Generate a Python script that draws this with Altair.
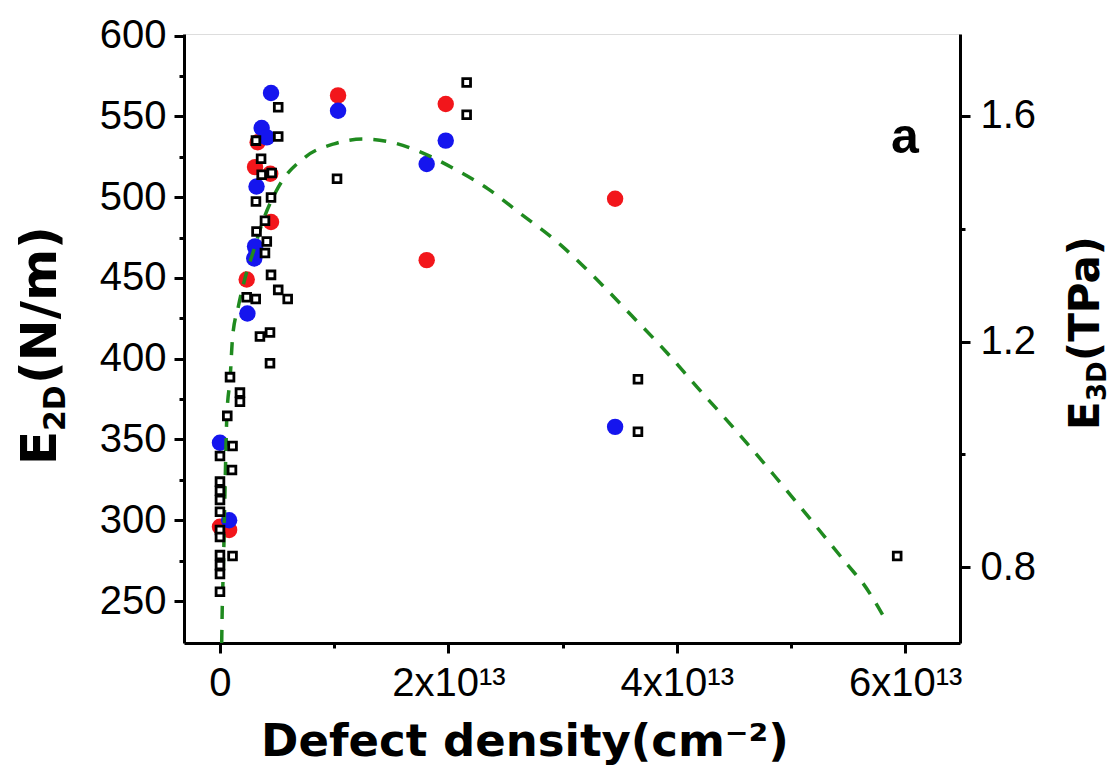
import altair as alt
import pandas as pd

# x values are in units of 10^13 cm^-2
red_x = [0.0, 0.08, 0.234, 0.447, 0.44, 0.307, 0.33, 1.034, 1.977, 1.81, 3.46]
red_y = [296, 294, 449, 484.6, 514.5, 518.6, 534, 563, 557.7, 461, 499]

blue_x = [0.0, 0.08, 0.24, 0.30, 0.32, 0.307, 0.32, 0.365, 0.41, 0.447, 1.034, 1.977, 1.81, 3.46]
blue_y = [348, 300, 428, 462, 466, 469.5, 506.6, 542.8, 537, 564.5, 553.5, 535, 520.5, 357.8]

sq_x = [0.51, 0.51, 0.315, 0.36, 0.365, 0.453, 0.315, 0.447, 0.394, 0.32, 0.41, 0.394,
        0.447, 0.51, 0.593, 0.234, 0.313, 0.35, 0.438, 0.438, 0.088, 0.175, 0.175, 0.064,
        0.11, 0.0, 0.105, 0.0, 0.0, 0.0, 0.0, 0.0, 0.0, 0.0, 0.11, 0.0, 0.0, 0.0,
        1.025, 2.16, 2.16, 3.66, 3.66, 5.93]
sq_y = [555.6, 537.6, 535, 523.8, 513.9, 515, 497.3, 499.8, 485.4, 478.8, 472.6, 465.4,
        451.9, 442.6, 436.9, 438, 436.9, 413.7, 416.2, 397.2, 388.6, 379, 373.4, 364.6,
        346, 339.8, 331.1, 323.9, 318.3, 312.5, 305.3, 294, 289.6, 278.4, 277.8, 272.2, 266.7, 255.7,
        511.4, 571, 551, 387.3, 354.8, 277.8]

fit_x = [0.015, 0.02, 0.03, 0.044, 0.06, 0.09, 0.11, 0.16, 0.22, 0.30, 0.37, 0.51, 0.75,
         1.0, 1.25, 1.5, 1.72, 2.04, 2.35, 2.61, 2.99, 3.3, 3.6, 3.91, 4.17, 4.5, 4.85,
         5.2, 5.5, 5.63, 5.83]
fit_y = [224, 246, 271, 319, 364, 389, 413, 432, 450, 468, 484, 506, 525,
         533, 536, 534, 529, 518, 505, 491, 470, 449, 427, 404, 383, 357, 328,
         298, 272, 261, 238]

x_ticks = [0, 1, 2, 3, 4, 5, 6]
y_ticks = list(range(250, 601, 25))
y2_ticks = [0.8, 1.0, 1.2, 1.4, 1.6]

X_DOMAIN = [-0.315, 6.48]
Y_DOMAIN = [224, 601]
Y2_DOMAIN = [0.666, 1.745]

FONT = "Liberation Sans"
TFONT = "DejaVu Sans"

red_df = pd.DataFrame({"x": red_x, "y": red_y})
blue_df = pd.DataFrame({"x": blue_x, "y": blue_y})
sq_df = pd.DataFrame({"x": sq_x, "y": sq_y})
fit_df = pd.DataFrame({"x": fit_x, "y": fit_y})
right_df = pd.DataFrame({"y2": Y2_DOMAIN})

xscale = alt.Scale(domain=X_DOMAIN, nice=False, zero=False)
yscale = alt.Scale(domain=Y_DOMAIN, nice=False, zero=False)

common = dict(tickWidth=3, domainWidth=3, domainColor="black", tickColor="black",
              labelFont=FONT, labelFontSize=40, labelColor="black",
              grid=False, title=None, labelFlush=False, labelOverlap=False)

xaxis = alt.Axis(
    values=x_ticks,
    labelExpr="datum.value == 0 ? '0' : (datum.value % 2 == 0 ? datum.value + 'x10¹³' : '')",
    tickSize={"condition": {"test": "datum.value % 2 != 0", "value": 5}, "value": 10},
    labelPadding=10, **common,
)
yaxis = alt.Axis(
    values=y_ticks, orient="left",
    labelExpr="datum.value % 50 == 0 ? datum.value : ''",
    tickSize={"condition": {"test": "datum.value % 50 != 0", "value": 5}, "value": 10},
    labelPadding=8, **common,
)
y2axis = alt.Axis(
    values=y2_ticks, orient="right",
    labelExpr="(round(datum.value*10) % 4 == 0) ? format(datum.value, '.1f') : ''",
    tickSize={"condition": {"test": "round(datum.value*10) % 4 != 0", "value": 5}, "value": 10},
    labelPadding=10, **common,
)

X = alt.X("x:Q", scale=xscale, axis=xaxis)
Y = alt.Y("y:Q", scale=yscale, axis=yaxis)

red = alt.Chart(red_df).mark_point(filled=True, shape="circle", size=270, color="#f2161b", opacity=1).encode(x=X, y=Y)
blue = alt.Chart(blue_df).mark_point(filled=True, shape="circle", size=270, color="#1515ee", opacity=1).encode(x=X, y=Y)
fit = alt.Chart(fit_df).mark_line(color="#1f8a1f", strokeWidth=3.5, strokeDash=[13, 11], interpolate="monotone").encode(x=X, y=Y)
squares = alt.Chart(sq_df).mark_point(shape="square", size=60, filled=False, stroke="black", strokeWidth=2.8, fill="white", fillOpacity=1, opacity=1).encode(x=X, y=Y)

def label(text, x, y, size, angle=0, align="left", baseline="alphabetic", font=TFONT):
    kw = dict(text=text, fontSize=size, font=font, fontWeight="bold", color="black", align=align, baseline=baseline)
    if angle:
        kw["angle"] = angle
    return alt.Chart(pd.DataFrame({"t": [text]})).mark_text(**kw).encode(x=alt.value(x), y=alt.value(y))

texts = [
    label("a", 721, 104, 50, align="center", baseline="middle", font=FONT),
    label("Defect density(cm⁻²)", 341, 722, 45, align="center"),
    # left title E_2D(N/m), reading upward
    label("E", -128, 431, 50, angle=270),
    label("2D", -119, 397, 30, angle=270),
    label("(N/m)", -128, 350, 50, angle=270),
    # right title E_3D(TPa)
    label("E", 915, 396, 42, angle=270),
    label("3D", 922, 367, 26, angle=270),
    label("(TPa)", 915, 327, 42, angle=270),
]

left = alt.layer(red, blue, fit, squares, *texts)
right = alt.Chart(right_df).mark_point(opacity=0).encode(
    y=alt.Y("y2:Q", scale=alt.Scale(domain=Y2_DOMAIN, nice=False, zero=False), axis=y2axis)
)

chart = alt.layer(left, right).resolve_scale(y="independent").properties(
    width=776, height=609,
    autosize=alt.AutoSizeParams(type="none"),
    padding={"left": 176, "top": 26, "right": 152, "bottom": 124},
).configure_view(stroke="black", strokeWidth=3).configure(background="white")

chart.save("out.html", embed_options={"renderer": "svg", "actions": False})
